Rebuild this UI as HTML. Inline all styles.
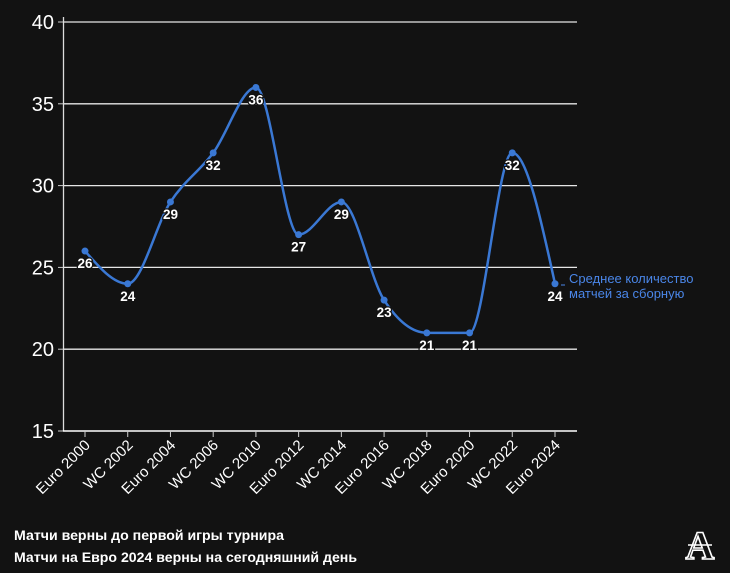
<!DOCTYPE html>
<html><head><meta charset="utf-8">
<style>
html,body{margin:0;padding:0;background:#121212;}
svg{display:block;font-family:"Liberation Sans","DejaVu Sans",sans-serif;}
</style></head>
<body>
<svg id="chart" width="730" height="573">
<rect width="730" height="573" fill="#121212"/>
<g id="grid"></g><g id="axes"></g><g id="series"></g>
<text x="569" y="283" fill="#4a86e8" font-size="13">Среднее количество</text>
<text x="569" y="298" fill="#4a86e8" font-size="13">матчей за сборную</text>
<line x1="561" y1="285" x2="565" y2="285" stroke="#4a86e8" stroke-width="1"/>
<text x="14" y="540" fill="#fff" font-size="14" font-weight="bold" textLength="270" lengthAdjust="spacingAndGlyphs">Матчи верны до первой игры турнира</text>
<text x="14" y="562" fill="#fff" font-size="14" font-weight="bold" textLength="343" lengthAdjust="spacingAndGlyphs">Матчи на Евро 2024 верны на сегодняшний день</text>
<g>
<text x="700" y="559" fill="#121212" stroke="#fff" stroke-width="1.6" font-size="40" font-weight="bold" font-family="'Liberation Serif',serif" text-anchor="middle">A</text>
<line x1="688" y1="545" x2="712" y2="545" stroke="#fff" stroke-width="1.5"/>
</g>
</svg>
<script>
const categories=["Euro 2000","WC 2002","Euro 2004","WC 2006","WC 2010","Euro 2012","WC 2014","Euro 2016","WC 2018","Euro 2020","WC 2022","Euro 2024"];
const values=[26,24,29,32,36,27,29,23,21,21,32,24];
const yTicks=[15,20,25,30,35,40];
const gridTicks=[20,25,30,35,40];
const NS="http://www.w3.org/2000/svg";
const x0=85,x1=555,yTop=22,yBot=431,vMin=15,vMax=40;
const xS=i=>x0+i*(x1-x0)/(categories.length-1);
const yS=v=>yBot-(v-vMin)/(vMax-vMin)*(yBot-yTop);
function mk(tag,attrs,parent){const e=document.createElementNS(NS,tag);for(const k in attrs)e.setAttribute(k,attrs[k]);parent.appendChild(e);return e;}
const grid=document.getElementById('grid'),axes=document.getElementById('axes'),series=document.getElementById('series');
gridTicks.forEach(t=>{
 const l=mk('line',{x1:64,x2:577,y1:yS(t),y2:yS(t),stroke:'#e6e6e6','stroke-width':1.3},grid);
 
 
});
yTicks.forEach(t=>{
 const tk=mk('line',{x1:58,x2:64,y1:yS(t),y2:yS(t),stroke:'#ccc'},axes);
 
 
 const tx=mk('text',{x:54,y:yS(t)+7,fill:'#fff','font-size':20,'text-anchor':'end'},axes);
 tx.textContent=t;
 
 
});
const ya=mk('line',{x1:63.5,x2:63.5,y1:17,y2:yBot,stroke:'#ddd','stroke-width':1.3},axes);


const xa=mk('line',{x1:63,x2:577,y1:yBot,y2:yBot,stroke:'#fff','stroke-width':1.5},axes);


categories.forEach((c,i)=>{
 const x=xS(i);
 const tk=mk('line',{x1:x,x2:x,y1:yBot,y2:yBot+6,stroke:'#ccc'},axes);
 
 
 const tx=mk('text',{x:x+6,y:yBot+15,fill:'#fff','font-size':15,'text-anchor':'end',transform:`rotate(-45 ${x+6} ${yBot+15})`},axes);
 tx.textContent=c;
 
 
});
// monotoneX path (d3 style)
const pts=values.map((v,i)=>[xS(i),yS(v)]);
const n=pts.length,sl=[],tg=[];
for(let i=0;i<n-1;i++)sl.push((pts[i+1][1]-pts[i][1])/(pts[i+1][0]-pts[i][0]));
for(let i=0;i<n;i++){
 if(i===0)tg.push(null);else if(i===n-1)tg.push(null);
 else{const s0=sl[i-1],s1=sl[i],h0=pts[i][0]-pts[i-1][0],h1=pts[i+1][0]-pts[i][0];
  const p=(s0*h1+s1*h0)/(h0+h1);
  tg.push((Math.sign(s0)+Math.sign(s1))*Math.min(Math.abs(s0),Math.abs(s1),0.5*Math.abs(p))||0);}
}
tg[0]=(3*sl[0]-tg[1])/2; tg[n-1]=(3*sl[n-2]-tg[n-2])/2;
let d=`M${pts[0][0]},${pts[0][1]}`;
for(let i=0;i<n-1;i++){
 const dx=(pts[i+1][0]-pts[i][0])/3;
 d+=` C${pts[i][0]+dx},${pts[i][1]+dx*tg[i]} ${pts[i+1][0]-dx},${pts[i+1][1]-dx*tg[i+1]} ${pts[i+1][0]},${pts[i+1][1]}`;
}
const path=mk('path',{d:d,fill:'none',stroke:'#3a78d4','stroke-width':2.5},series);


pts.forEach((p,i)=>{
 const c=mk('circle',{cx:p[0],cy:p[1],r:3.5,fill:'#3a78d4'},series);
 
 
 const t=mk('text',{x:p[0],y:p[1]+17,fill:'#fff',stroke:'#121212','stroke-width':2.5,'paint-order':'stroke','font-size':13.5,'font-weight':'bold','text-anchor':'middle'},series);
 t.textContent=values[i];
 
 
});
</script>
</body></html>
